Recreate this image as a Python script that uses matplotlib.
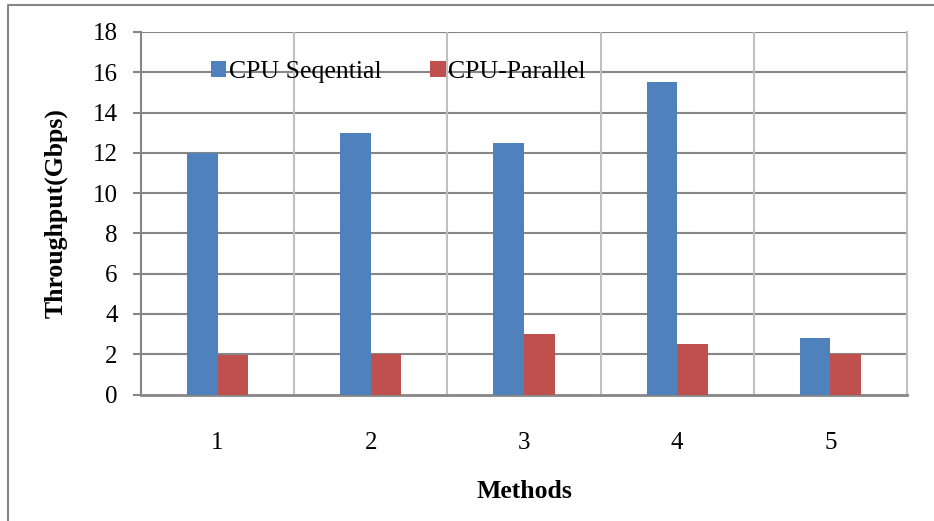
import matplotlib
matplotlib.use("Agg")
import matplotlib.pyplot as plt
from matplotlib.lines import Line2D
import numpy as np

methods = ["1", "2", "3", "4", "5"]
cpu_seq = [12.0, 13.0, 12.5, 15.5, 2.8]
cpu_par = [1.95, 2.0, 3.0, 2.5, 2.0]
yticks = [0, 2, 4, 6, 8, 10, 12, 14, 16, 18]

plt.rcParams['font.family'] = ['Liberation Serif', 'DejaVu Serif']

W, H = 934, 521
fig = plt.figure(figsize=(W/100, H/100), dpi=100)
ax = fig.add_axes([141/W, 1-394.5/H, (907-141)/W, (394.5-32)/H])

x = np.arange(1, len(methods)+1)
bw = 0.2
ax.bar(x - bw/2, cpu_seq, width=bw, color='#4F81BD', label='CPU Seqential', zorder=3)
ax.bar(x + bw/2, cpu_par, width=bw, color='#C0504D', label='CPU-Parallel', zorder=3)

ax.set_xlim(0.5, len(methods)+0.5)
ax.set_ylim(0, 18)
ax.set_yticks(yticks)
ax.set_xticks(x)
ax.set_xticklabels(methods)
ax.tick_params(axis='x', length=0, pad=27, labelsize=18)
ax.tick_params(axis='y', length=5.8, width=1.5, color='#868686', pad=11, labelsize=18)

for yv in yticks[1:]:
    ax.axhline(yv, color='#868686', lw=1.5, zorder=1)
for xv in np.arange(1.5, len(methods)+0.5, 1.0):
    ax.axvline(xv, color='#C0C0C0', lw=1.5, zorder=1)

ax.spines['top'].set_visible(False)
ax.spines['left'].set_color('#868686'); ax.spines['left'].set_linewidth(1.5)
ax.spines['bottom'].set_color('#868686'); ax.spines['bottom'].set_linewidth(2)
ax.spines['right'].set_color('#C0C0C0'); ax.spines['right'].set_linewidth(1.5)

ax.set_ylabel('Throughput(Gbps)', fontsize=18.5, fontweight='bold', labelpad=18)
ax.set_xlabel('Methods', fontsize=18.5, fontweight='bold', labelpad=19)

leg = ax.legend(loc='center left', bbox_to_anchor=((211-141)/(907-141), (394.5-72)/(394.5-32)),
                ncol=2, frameon=False, fontsize=18.5, handlelength=0.6, handleheight=0.6,
                handletextpad=0.1, columnspacing=1.9, borderaxespad=0, borderpad=0)

# figure border
fig.add_artist(Line2D([8/W, 8/W, 1.0], [0.0, 1-5/H, 1-5/H], transform=fig.transFigure,
                      color='#868686', lw=1.5))

fig.savefig('out.png', dpi=100)
